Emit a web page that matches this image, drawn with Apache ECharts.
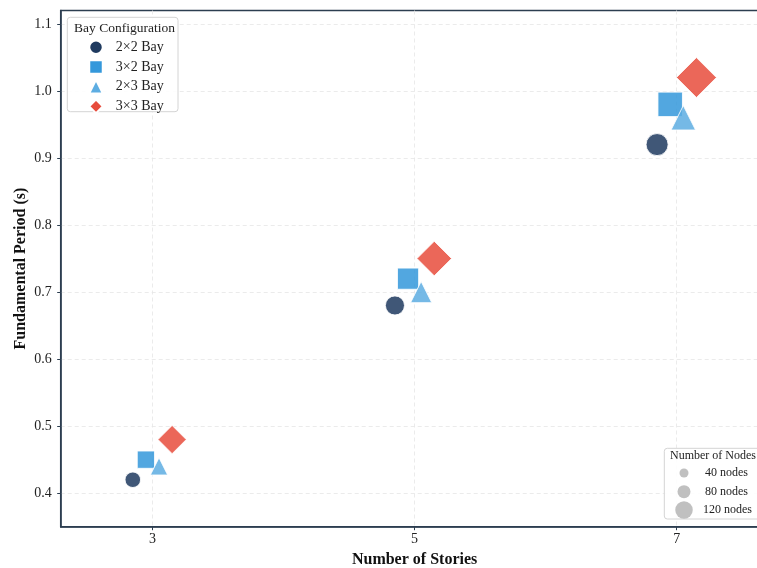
<!DOCTYPE html>
<html>
<head>
<meta charset="utf-8">
<script src="https://cdn.jsdelivr.net/npm/echarts@6/dist/echarts.min.js"></script>
<style>
  html, body { margin: 0; padding: 0; background: #fff; }
  #chart { width: 757px; height: 568px; }
</style>
</head>
<body>
<div id="chart"></div>
<script>
// Fundamental period vs. number of stories, by bay configuration
const stories = [3, 5, 7];
const configNames = ['2×2 Bay', '3×2 Bay', '2×3 Bay', '3×3 Bay'];
const period2x2 = [0.42, 0.68, 0.92];
const period3x2 = [0.45, 0.72, 0.98];
const period2x3 = [0.44, 0.70, 0.96];
const period3x3 = [0.48, 0.75, 1.02];
const nodes2x2 = [36, 54, 72];
const nodes3x2 = [48, 72, 96];
const nodes2x3 = [48, 72, 96];
const nodes3x3 = [64, 96, 128];
const nodeLegendValues = [40, 80, 120];
const xTickValues = [3, 5, 7];
const yTickValues = [0.4, 0.5, 0.6, 0.7, 0.8, 0.9, 1.0, 1.1];

const periods = [period2x2, period3x2, period2x3, period3x3];
const nodeCounts = [nodes2x2, nodes3x2, nodes2x3, nodes3x3];
const dodge = [-0.15, -0.05, 0.05, 0.15];
const colors = ['#1f3a5f', '#3498db', '#5dade2', '#e74c3c'];
const symbols = ['circle', 'rect', 'triangle', 'diamond'];
const sizeScale = [2.6, 2.5, 2.5, 2.5 * Math.SQRT2];

const FONT = '"Liberation Serif", "Times New Roman", serif';
const FRAME = '#2c3e50';

const series = configNames.map((name, i) => ({
  name,
  type: 'scatter',
  symbol: symbols[i],
  data: stories.map((s, j) => [s + dodge[i], periods[i][j], nodeCounts[i][j]]),
  symbolSize: v => sizeScale[i] * Math.sqrt(v[2]),
  itemStyle: { color: colors[i], opacity: 0.85, borderColor: '#fff', borderWidth: 1 },
  emphasis: { disabled: true }
}));

// empty series that only feed the marker-size legend
const nodeLabels = nodeLegendValues.map(n => n + ' nodes');
nodeLabels.forEach(label => series.push({
  name: label, type: 'scatter', symbol: 'circle', data: [],
  itemStyle: { color: '#b0b0b0' }
}));

const nodeLegendBoxes = [9, 13, 17.5];
const nodeRowCenters = [473.5, 491.7, 510];
const nodeTextLeft = [705, 705, 703];
const nodeIconCenter = 684;
const nodeLegends = nodeLabels.map((label, k) => {
  const h = nodeLegendBoxes[k];
  return {
    data: [label],
    left: nodeIconCenter - h / 2,
    top: nodeRowCenters[k] - Math.max(h, 13) / 2,
    orient: 'vertical',
    itemWidth: h,
    itemHeight: h,
    icon: 'circle',
    selectedMode: false,
    padding: 0,
    textStyle: { fontFamily: FONT, fontSize: 12, color: '#222',
                 padding: [0, 0, 0, nodeTextLeft[k] - (nodeIconCenter + h / 2 + 5)] }
  };
});

const chart = echarts.init(document.getElementById('chart'), null, { renderer: 'canvas' });
chart.setOption({
  animation: false,
  backgroundColor: '#fff',
  grid: {
    left: 60.7, top: 10.5, width: 707.8, height: 516.2,
    containLabel: false, outerBoundsMode: 'none',
    show: true, borderColor: FRAME, borderWidth: 1.5, backgroundColor: 'transparent'
  },
  xAxis: {
    type: 'value', min: 2.3, max: 7.7,
    name: 'Number of Stories', nameLocation: 'middle', nameGap: 25, nameMoveOverlap: false,
    nameTextStyle: { fontFamily: FONT, fontSize: 16, fontWeight: 'bold', color: '#111' },
    axisLine: { show: true, lineStyle: { color: FRAME, width: 1.5 } },
    axisTick: { show: true, length: 3.5, inside: false, customValues: xTickValues, lineStyle: { color: FRAME, width: 1 } },
    axisLabel: { customValues: xTickValues, margin: 6, fontFamily: FONT, fontSize: 14, color: '#222' },
    splitLine: { show: true, lineStyle: { color: '#e6e6e6', width: 0.8, type: [4, 3] } }
  },
  yAxis: {
    type: 'value', min: 0.35, max: 1.12,
    name: 'Fundamental Period (s)', nameLocation: 'middle', nameGap: 32, nameMoveOverlap: false,
    nameTextStyle: { fontFamily: FONT, fontSize: 16, fontWeight: 'bold', color: '#111' },
    axisLine: { show: true, lineStyle: { color: FRAME, width: 1.5 } },
    axisTick: { show: true, length: 3.5, inside: false, customValues: yTickValues, lineStyle: { color: FRAME, width: 1 } },
    axisLabel: { customValues: yTickValues, margin: 9, fontFamily: FONT, fontSize: 14, color: '#222',
                 formatter: v => v.toFixed(1) },
    splitLine: { show: true, lineStyle: { color: '#e6e6e6', width: 0.8, type: [4, 3] } }
  },
  legend: [{
    data: configNames.map((n, i) => ({ name: n, icon: symbols[i], itemStyle: { opacity: 1 } })),
    orient: 'vertical',
    left: 88.25, top: 39.5,
    itemWidth: 13.5, itemHeight: 13.5, itemGap: 4.2,
    selectedMode: false,
    padding: 0,
    textStyle: { fontFamily: FONT, fontSize: 14, color: '#222', padding: [0, 0, 0, 8] }
  }].concat(nodeLegends),
  graphic: [
    { type: 'rect', z: 3, shape: { x: 67.3, y: 17.3, width: 110.7, height: 94.4, r: 3 },
      style: { fill: 'rgba(255,255,255,0.9)', stroke: '#d4d4d4', lineWidth: 1 } },
    { type: 'text', z: 4, x: 124.5, y: 28.5,
      style: { text: 'Bay Configuration', font: '13.5px ' + FONT, fill: '#222',
               textAlign: 'center', textVerticalAlign: 'middle' } },
    { type: 'rect', z: 3, shape: { x: 664.3, y: 448.3, width: 110, height: 70.7, r: 3 },
      style: { fill: 'rgba(255,255,255,0.9)', stroke: '#d4d4d4', lineWidth: 1 } },
    { type: 'text', z: 4, x: 670, y: 455.5,
      style: { text: 'Number of Nodes', font: '12px ' + FONT, fill: '#222',
               textAlign: 'left', textVerticalAlign: 'middle' } }
  ],
  series
});
</script>
</body>
</html>
